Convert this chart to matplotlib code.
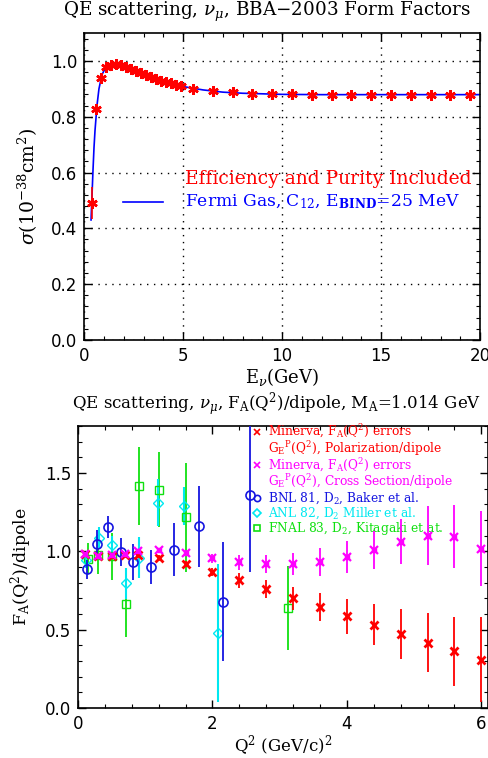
import numpy as np
import matplotlib
matplotlib.use("Agg")
import matplotlib.pyplot as plt
from matplotlib.ticker import MultipleLocator

plt.rcParams["font.family"] = "DejaVu Serif"
plt.rcParams["mathtext.fontset"] = "dejavuserif"

# ---- top panel: cross section vs E_nu ----
e_data = [0.375, 0.625, 0.875, 1.125, 1.375, 1.625, 1.875, 2.125, 2.375, 2.625,
          2.875, 3.125, 3.375, 3.625, 3.875, 4.125, 4.375, 4.625, 4.875,
          5.5, 6.5, 7.5, 8.5, 9.5, 10.5, 11.5, 12.5, 13.5, 14.5, 15.5, 16.5,
          17.5, 18.5, 19.5]
sig_data = [0.49, 0.827, 0.94, 0.978, 0.985, 0.989, 0.985, 0.978, 0.970, 0.962,
            0.955, 0.948, 0.941, 0.935, 0.929, 0.924, 0.919, 0.914, 0.909,
            0.901, 0.893, 0.887, 0.883, 0.882, 0.880, 0.879, 0.879, 0.879,
            0.879, 0.879, 0.879, 0.879, 0.879, 0.879]
sig_err = [0.057, 0.02, 0.012, 0.008, 0.006, 0.006, 0.006, 0.005, 0.005, 0.005,
           0.005, 0.005, 0.005, 0.005, 0.005, 0.005, 0.005, 0.005, 0.005,
           0.006, 0.006, 0.006, 0.006, 0.006, 0.007, 0.008, 0.009, 0.010,
           0.011, 0.012, 0.013, 0.014, 0.015, 0.016]

e_model = [0.35, 0.40, 0.45, 0.50, 0.55, 0.65, 0.75, 0.9, 1.1, 1.3, 1.6, 2.0,
           2.5, 3.0, 3.5, 4.0, 4.5, 5.0, 6.0, 7.0, 8.0, 9.0, 10.0, 12.0, 14.0,
           16.0, 18.0, 20.0]
sig_model = [0.43, 0.52, 0.61, 0.69, 0.75, 0.84, 0.90, 0.95, 0.978, 0.987, 0.989,
             0.982, 0.966, 0.952, 0.938, 0.927, 0.917, 0.908, 0.896, 0.888, 0.884,
             0.882, 0.880, 0.879, 0.879, 0.879, 0.879, 0.879]

# ---- bottom panel: F_A / dipole vs Q^2 ----
q2_min = [0.1, 0.3, 0.5, 0.7, 0.9, 1.2, 1.6, 2.0, 2.4, 2.8, 3.2, 3.6, 4.0,
          4.4, 4.8, 5.2, 5.6, 6.0]
fa_pol = [0.98, 0.97, 0.97, 0.975, 0.975, 0.96, 0.92, 0.87, 0.814, 0.76, 0.70,
          0.645, 0.585, 0.532, 0.474, 0.417, 0.361, 0.308]
err_pol = [0.01, 0.01, 0.012, 0.012, 0.014, 0.016, 0.02, 0.025, 0.045, 0.06,
           0.074, 0.09, 0.11, 0.13, 0.16, 0.19, 0.22, 0.27]
fa_xs = [0.98, 0.97, 0.975, 0.98, 1.0, 1.006, 0.99, 0.955, 0.93, 0.917, 0.917,
         0.93, 0.963, 1.008, 1.062, 1.10, 1.094, 1.017]
err_xs = [0.01, 0.01, 0.012, 0.012, 0.014, 0.016, 0.02, 0.03, 0.047, 0.057,
          0.07, 0.09, 0.10, 0.12, 0.145, 0.19, 0.20, 0.24]

q2_bnl = [0.13, 0.28, 0.45, 0.64, 0.82, 1.08, 1.43, 1.80, 2.15, 2.56]
fa_bnl = [0.885, 1.045, 1.158, 0.998, 0.93, 0.90, 1.01, 1.16, 0.677, 1.36]
err_bnl = [0.06, 0.09, 0.07, 0.09, 0.115, 0.11, 0.17, 0.26, 0.38, 0.49]

q2_anl = [0.12, 0.31, 0.51, 0.71, 0.91, 1.19, 1.58, 2.08]
fa_anl = [0.944, 1.088, 1.04, 0.795, 0.96, 1.31, 1.29, 0.479]
err_anl = [0.05, 0.07, 0.06, 0.10, 0.13, 0.15, 0.12, 0.44]

q2_fnal = [0.15, 0.30, 0.51, 0.71, 0.91, 1.20, 1.60, 3.13]
fa_fnal = [0.953, 0.974, 0.97, 0.665, 1.418, 1.393, 1.216, 0.639]
err_fnal = [0.10, 0.12, 0.15, 0.21, 0.25, 0.24, 0.35, 0.27]

RED, MAG, BLUE, CYAN, GREEN = "#ff0000", "#ff00ff", "#1515e0", "#00e8f0", "#10e010"


def style_axes(ax):
    ax.tick_params(which="both", direction="in", top=True, right=True)
    ax.tick_params(which="major", length=6, width=1.0, labelsize=12, pad=5)
    ax.tick_params(which="minor", length=3, width=0.8)
    for lab in ax.get_xticklabels() + ax.get_yticklabels():
        lab.set_family("DejaVu Sans")
    for s in ax.spines.values():
        s.set_linewidth(1.2)


fig = plt.figure(figsize=(4.89, 7.58), dpi=100)

ax1 = fig.add_axes([0.172, 0.5515, 0.810, 0.405])
ax1.plot(e_model, sig_model, color="#0000ff", lw=1.2, zorder=2)
ax1.errorbar(e_data, sig_data, yerr=sig_err, fmt="none", ecolor=RED,
             elinewidth=1.2, zorder=3)
ax1.plot(e_data, sig_data, ls="none", marker=(6, 2, 0), ms=7.5, mew=1.8,
         color=RED, zorder=4)
ax1.set_xlim(0, 20)
ax1.set_ylim(0, 1.1)
ax1.xaxis.set_major_locator(MultipleLocator(5))
ax1.xaxis.set_minor_locator(MultipleLocator(1))
ax1.yaxis.set_major_locator(MultipleLocator(0.2))
ax1.yaxis.set_minor_locator(MultipleLocator(0.04))
ax1.grid(True, which="major", ls=(0, (1, 4)), color="black", lw=1.0)
style_axes(ax1)
ax1.set_xlabel(r"E$_\nu$(GeV)", fontsize=13, labelpad=1)
ax1.set_ylabel(r"$\sigma$(10$^{-38}$cm$^2$)", fontsize=13.5, labelpad=8)
ax1.plot([0.098, 0.199], [0.451, 0.451], transform=ax1.transAxes,
         color="#0000ff", lw=1.2)
ax1.text(0.255, 0.525, "Efficiency and Purity Included", color=RED,
         fontsize=13.5, transform=ax1.transAxes, va="center")
ax1.text(0.255, 0.451, r"Fermi Gas, C$_{12}$, E$_{\mathbf{BIND}}$=25 MeV",
         color="#0000ff", fontsize=12.3, transform=ax1.transAxes, va="center")
fig.text(0.547, 0.984, r"QE scattering, $\nu_\mu$, BBA$-$2003 Form Factors",
         ha="center", va="center", fontsize=13.2)

ax2 = fig.add_axes([0.1595, 0.066, 0.8385, 0.372])
ax2.errorbar(q2_fnal, fa_fnal, yerr=err_fnal, fmt="s", ms=6, mfc="none",
             mec=GREEN, ecolor=GREEN, elinewidth=1.3, mew=1.0, zorder=2)
ax2.errorbar(q2_anl, fa_anl, yerr=err_anl, fmt="D", ms=5, mfc="none",
             mec=CYAN, ecolor=CYAN, elinewidth=1.5, mew=1.0, zorder=2)
ax2.errorbar(q2_bnl, fa_bnl, yerr=err_bnl, fmt="o", ms=6.5, mfc="none",
             mec=BLUE, ecolor=BLUE, elinewidth=1.3, mew=1.2, zorder=3)
ax2.errorbar(q2_min, fa_pol, yerr=err_pol, fmt="x", ms=6, mew=2.0,
             color=RED, ecolor=RED, elinewidth=1.3, zorder=4)
ax2.errorbar(q2_min, fa_xs, yerr=err_xs, fmt="none", ecolor=MAG,
             elinewidth=1.3, zorder=4)
ax2.plot(q2_min, fa_xs, ls="none", marker="x", ms=6, mew=1.6, color=MAG, zorder=5)
ax2.plot(q2_min, fa_xs, ls="none", marker="s", ms=3.5, mew=1.0, mfc="none",
         mec=MAG, zorder=5)
ax2.set_xlim(0, 6.1)
ax2.set_ylim(0, 1.8)
ax2.xaxis.set_major_locator(MultipleLocator(2))
ax2.xaxis.set_minor_locator(MultipleLocator(0.4))
ax2.yaxis.set_major_locator(MultipleLocator(0.5))
ax2.yaxis.set_minor_locator(MultipleLocator(0.1))
style_axes(ax2)
ax2.set_xlabel(r"Q$^2$ (GeV/c)$^2$", fontsize=12, labelpad=0)
ax2.set_ylabel(r"F$_\mathrm{A}$(Q$^2$)/dipole", fontsize=12.5, labelpad=8)
fig.text(0.565, 0.467,
         r"QE scattering, $\nu_\mu$, F$_\mathrm{A}$(Q$^2$)/dipole, M$_\mathrm{A}$=1.014 GeV",
         ha="center", va="center", fontsize=12)

# legend drawn as text lines
leg_sym_x, leg_txt_x = 0.437, 0.463
leg_rows = [
    (0.980, "x", RED, r"Minerva, F$_\mathrm{A}$(Q$^2$) errors"),
    (0.920, None, RED, r"G$_\mathrm{E}$$^\mathrm{P}$(Q$^2$), Polarization/dipole"),
    (0.861, "x", MAG, r"Minerva, F$_\mathrm{A}$(Q$^2$) errors"),
    (0.802, None, MAG, r"G$_\mathrm{E}$$^\mathrm{P}$(Q$^2$), Cross Section/dipole"),
    (0.745, "o", BLUE, r"BNL 81, D$_2$, Baker et al."),
    (0.691, "D", CYAN, r"ANL 82, D$_2$ Miller et al."),
    (0.638, "s", GREEN, r"FNAL 83, D$_2$, Kitagaki et at."),
]
for y, m, c, txt in leg_rows:
    if m is not None:
        mfc = c if m == "x" else "none"
        ax2.plot([leg_sym_x], [y], transform=ax2.transAxes, marker=m, ms=4.5,
                 mew=1.2, color=c, mfc=mfc, ls="none", clip_on=False)
    ax2.text(leg_txt_x, y, txt, color=c, fontsize=8.8, va="center",
             transform=ax2.transAxes)

fig.savefig("out.png", dpi=100)
